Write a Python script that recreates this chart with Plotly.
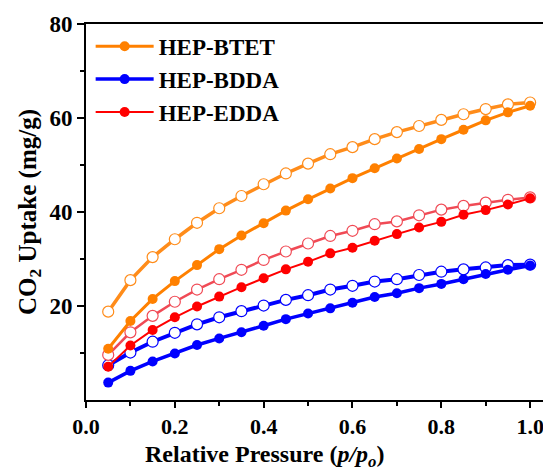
import plotly.graph_objects as go

pressure = [0.05, 0.10, 0.15, 0.20, 0.25, 0.30, 0.35, 0.40, 0.45, 0.50,
            0.55, 0.60, 0.65, 0.70, 0.75, 0.80, 0.85, 0.90, 0.95, 1.00]

btet_ads = [10.9, 16.8, 21.5, 25.3, 28.7, 32.1, 35.0, 37.6, 40.3, 42.7,
            45.0, 47.2, 49.3, 51.4, 53.4, 55.5, 57.5, 59.5, 61.2, 62.6]
btet_des = [18.8, 25.5, 30.4, 34.2, 37.7, 40.8, 43.4, 45.9, 48.2, 50.3,
            52.3, 53.8, 55.5, 57.0, 58.3, 59.6, 60.8, 61.9, 62.9, 63.3]

bdda_ads = [3.7, 6.2, 8.2, 9.9, 11.7, 13.1, 14.4, 15.8, 17.2, 18.4,
            19.5, 20.7, 21.9, 22.7, 23.8, 24.7, 25.7, 26.8, 27.7, 28.6]
bdda_des = [7.4, 10.1, 12.4, 14.3, 16.1, 17.6, 18.9, 20.1, 21.3, 22.3,
            23.5, 24.3, 25.2, 25.7, 26.6, 27.3, 27.8, 28.2, 28.7, 28.8]

edda_ads = [7.1, 11.6, 14.9, 17.6, 19.9, 22.0, 24.0, 25.9, 27.8, 29.4,
            31.2, 32.4, 33.9, 35.3, 36.7, 37.9, 39.4, 40.4, 41.6, 42.9]
edda_des = [9.6, 14.4, 17.9, 20.9, 23.5, 25.7, 27.7, 29.8, 31.6, 33.3,
            34.9, 36.0, 37.4, 38.0, 39.3, 40.5, 41.3, 42.0, 42.6, 43.1]

names = ["HEP-BTET", "HEP-BDDA", "HEP-EDDA"]
colors = ["#FF8000", "#0000FF", "#FF0000"]
des_colors = ["#FF8C1A", "#0000FF", "#F04A55"]
widths = [3, 3.5, 2]
ads = [btet_ads, bdda_ads, edda_ads]
des = [btet_des, bdda_des, edda_des]

FONT = "Liberation Serif, Times New Roman, serif"

fig = go.Figure()
for name, c, dc, w, a, d in zip(names, colors, des_colors, widths, ads, des):
    fig.add_trace(go.Scatter(
        x=pressure, y=d, mode="lines+markers", showlegend=False,
        line=dict(color=dc, width=w + 0.5),
        marker=dict(symbol="circle", size=11, color="white",
                    line=dict(color=dc, width=1.2)),
    ))
for name, c, dc, w, a, d in zip(names, colors, des_colors, widths, ads, des):
    fig.add_trace(go.Scatter(
        x=pressure, y=a, mode="lines+markers", name=name,
        line=dict(color=c, width=w),
        marker=dict(symbol="circle", size=10, color=c,
                    line=dict(color=c, width=0)),
    ))

# page body has an 8px default margin, so the figure is sized to fill the rest
fig.update_layout(
    width=543, height=459,
    margin=dict(l=78, r=0, t=16, b=67),
    plot_bgcolor="white", paper_bgcolor="white",
    font=dict(family=FONT, size=22, color="black", weight="bold"),
    legend=dict(x=0.01, y=0.998, xanchor="left", yanchor="top",
                bgcolor="rgba(0,0,0,0)", itemwidth=58,
                font=dict(family=FONT, size=23, color="black", weight="bold"),
                tracegroupgap=0, traceorder="normal"),
    xaxis=dict(
        range=[0, 1.047], showgrid=False, zeroline=False, automargin=False,
        showline=True, linecolor="black", linewidth=2, mirror=True,
        ticks="outside", ticklen=6, tickwidth=2, tickcolor="black",
        tickfont=dict(size=22),
        tickvals=[0, 0.2, 0.4, 0.6, 0.8, 1.0],
        ticktext=["0.0", "0.2", "0.4", "0.6", "0.8", "1.0"],
        minor=dict(tickvals=[0.1, 0.3, 0.5, 0.7, 0.9], ticks="outside",
                   ticklen=4, tickwidth=2, tickcolor="black"),
    ),
    yaxis=dict(
        range=[0, 80], showgrid=False, zeroline=False, automargin=False,
        showline=True, linecolor="black", linewidth=2,
        ticks="outside", ticklen=7, tickwidth=2, tickcolor="black",
        tickfont=dict(size=23),
        tickvals=[20, 40, 60, 80],
        minor=dict(tickvals=[10, 30, 50, 70], ticks="outside",
                   ticklen=4, tickwidth=2, tickcolor="black"),
        title=dict(text="CO<sub>2</sub> Uptake (mg/g)",
                   font=dict(family=FONT, size=25, weight="bold"), standoff=6),
    ),
    annotations=[dict(
        text="Relative Pressure (<i>p/p<sub>o</sub></i>)",
        xref="paper", yref="paper", x=0.383, y=-0.149,
        xanchor="center", yanchor="middle", showarrow=False,
        font=dict(family=FONT, size=24, color="black", weight="bold"),
    )],
)

fig.write_html("out.html")
